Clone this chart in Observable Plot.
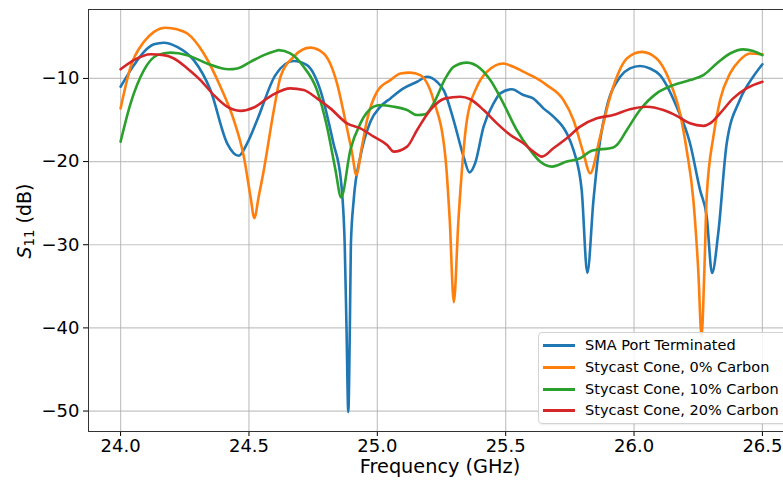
<!DOCTYPE html>
<html>
<head>
<meta charset="utf-8">
<script src="https://cdn.jsdelivr.net/npm/d3@7"></script>
<script src="https://cdn.jsdelivr.net/npm/@observablehq/plot@0.6"></script>
<style>
  html, body { margin: 0; padding: 0; background: #fff; overflow: hidden; }
  #wrap { position: relative; width: 783px; height: 481px; overflow: hidden; font-family: "DejaVu Sans", sans-serif; }
  #wrap svg { max-width: none !important; display: block; }
  #legend { position: absolute; left: 538px; top: 332px; width: 262px; height: 92px; border: 1px solid #d3d3d3; border-radius: 4px; background: rgba(255,255,255,0.85); box-sizing: border-box; box-shadow: 1px 1px 2px rgba(0,0,0,0.08); }
  .row { position: absolute; left: 0; height: 20px; display: flex; align-items: center; font-size: 14.5px; color: #000; white-space: nowrap; }
  .sw { width: 32px; height: 0; border-top: 3px solid; margin-left: 4px; margin-right: 10px; }
</style>
</head>
<body>
<div id="wrap"></div>
<script>
// ---- data ----
const seriesNames = ["SMA Port Terminated", "Stycast Cone, 0% Carbon", "Stycast Cone, 10% Carbon", "Stycast Cone, 20% Carbon"];
const seriesColors = ["#1f77b4", "#ff7f0e", "#2ca02c", "#d62728"];

const freqSMA = [24.000, 24.052, 24.091, 24.130, 24.168, 24.220, 24.285, 24.350, 24.415, 24.460, 24.493, 24.532, 24.603, 24.674, 24.726, 24.778, 24.829, 24.858, 24.873, 24.880, 24.887, 24.893, 24.897, 24.908, 24.934, 24.973, 25.012, 25.051, 25.102, 25.155, 25.193, 25.232, 25.260, 25.297, 25.336, 25.359, 25.381, 25.414, 25.453, 25.479, 25.524, 25.569, 25.607, 25.647, 25.686, 25.738, 25.764, 25.796, 25.818, 25.842, 25.868, 25.894, 25.946, 25.984, 26.023, 26.062, 26.101, 26.166, 26.218, 26.257, 26.283, 26.304, 26.328, 26.361, 26.412, 26.464, 26.500];
const dbSMA   = [-11.0, -8.4, -6.8, -5.9, -5.7, -6.2, -7.8, -11.4, -17.8, -19.3, -17.8, -15.0, -9.6, -7.9, -8.4, -11.4, -17.8, -22.2, -30.0, -40.0, -50.1, -40.0, -30.0, -24.6, -19.4, -15.2, -13.4, -12.4, -11.2, -10.4, -9.8, -10.4, -11.5, -15.0, -19.4, -21.3, -20.2, -15.8, -13.0, -11.8, -11.3, -12.0, -12.4, -13.6, -14.6, -16.6, -18.6, -23.4, -33.4, -24.6, -17.4, -13.4, -9.8, -8.8, -8.5, -8.8, -9.6, -13.4, -17.8, -23.4, -26.6, -33.4, -28.6, -17.8, -12.6, -9.8, -8.3];

const freqC0 = [24.000, 24.039, 24.091, 24.130, 24.175, 24.220, 24.260, 24.324, 24.389, 24.441, 24.480, 24.506, 24.521, 24.538, 24.558, 24.597, 24.623, 24.674, 24.739, 24.791, 24.843, 24.875, 24.902, 24.918, 24.940, 24.960, 24.999, 25.051, 25.090, 25.128, 25.167, 25.219, 25.265, 25.282, 25.298, 25.316, 25.349, 25.388, 25.427, 25.491, 25.530, 25.582, 25.621, 25.660, 25.725, 25.764, 25.803, 25.829, 25.868, 25.907, 25.933, 25.972, 26.030, 26.088, 26.140, 26.179, 26.205, 26.231, 26.250, 26.263, 26.274, 26.283, 26.309, 26.335, 26.374, 26.412, 26.451, 26.500];
const dbC0   = [-13.6, -8.6, -5.6, -4.4, -3.9, -4.1, -4.6, -7.0, -11.0, -15.0, -19.4, -24.2, -26.8, -24.2, -21.0, -13.8, -9.8, -7.4, -6.3, -7.0, -10.6, -15.0, -19.0, -21.6, -18.2, -15.0, -11.6, -10.2, -9.4, -9.3, -9.6, -12.6, -19.4, -27.0, -36.9, -27.0, -15.0, -11.0, -9.2, -8.2, -8.6, -9.4, -10.0, -10.8, -12.6, -15.0, -19.0, -21.4, -17.0, -12.2, -9.8, -7.6, -6.8, -7.6, -10.4, -14.2, -18.6, -24.6, -33.0, -41.0, -33.0, -24.2, -17.0, -12.6, -9.4, -7.8, -7.0, -7.1];

const freqC10 = [24.000, 24.039, 24.091, 24.143, 24.195, 24.260, 24.337, 24.421, 24.454, 24.506, 24.558, 24.603, 24.616, 24.661, 24.713, 24.765, 24.804, 24.837, 24.859, 24.895, 24.934, 24.986, 25.012, 25.064, 25.116, 25.155, 25.187, 25.219, 25.265, 25.297, 25.349, 25.401, 25.440, 25.491, 25.543, 25.595, 25.634, 25.680, 25.738, 25.790, 25.835, 25.919, 25.933, 25.972, 26.023, 26.088, 26.153, 26.218, 26.270, 26.322, 26.374, 26.425, 26.464, 26.500];
const dbC10   = [-17.6, -13.0, -9.0, -7.2, -6.9, -7.2, -8.2, -8.9, -8.8, -8.0, -7.2, -6.7, -6.6, -7.0, -8.6, -11.4, -15.8, -21.0, -24.3, -18.6, -15.4, -13.4, -13.2, -13.4, -13.8, -14.4, -14.3, -13.0, -10.0, -8.6, -8.1, -8.8, -10.2, -13.0, -16.2, -18.6, -20.0, -20.6, -20.0, -19.6, -18.7, -18.3, -18.0, -16.2, -13.8, -11.8, -10.8, -10.2, -9.6, -8.2, -7.0, -6.5, -6.7, -7.2];

const freqC20 = [24.000, 24.052, 24.117, 24.168, 24.208, 24.260, 24.311, 24.363, 24.415, 24.467, 24.519, 24.571, 24.603, 24.661, 24.713, 24.765, 24.817, 24.882, 24.934, 24.986, 25.038, 25.064, 25.116, 25.155, 25.206, 25.265, 25.323, 25.362, 25.414, 25.466, 25.518, 25.569, 25.608, 25.641, 25.686, 25.738, 25.790, 25.855, 25.919, 25.984, 26.049, 26.114, 26.166, 26.218, 26.270, 26.296, 26.335, 26.386, 26.438, 26.500];
const dbC20   = [-8.9, -7.8, -7.1, -7.2, -7.6, -8.8, -10.2, -12.0, -13.4, -13.9, -13.5, -12.4, -11.8, -11.2, -11.4, -12.4, -13.6, -15.4, -16.0, -17.0, -18.0, -18.8, -18.2, -16.2, -13.8, -12.4, -12.2, -12.5, -13.8, -15.4, -16.8, -17.8, -18.8, -19.4, -18.4, -17.2, -15.8, -14.8, -14.4, -13.7, -13.4, -13.8, -14.5, -15.4, -15.7, -15.4, -14.2, -12.4, -11.2, -10.4];

const xTicks = [24.0, 24.5, 25.0, 25.5, 26.0, 26.5];
const yTicks = [-10, -20, -30, -40, -50];
const xLabel = "Frequency (GHz)";

// ---- build tables ----
const freqs = [freqSMA, freqC0, freqC10, freqC20];
const dbs = [dbSMA, dbC0, dbC10, dbC20];
const tables = freqs.map((fs, i) => fs.map((f, j) => ({f, db: dbs[i][j], s: seriesNames[i]})));

const chart = Plot.plot({
  width: 794,
  height: 481,
  marginLeft: 88,
  marginRight: 0,
  marginTop: 9,
  marginBottom: 50,
  style: {fontFamily: "DejaVu Sans, sans-serif", fontSize: "18px", color: "#000", background: "transparent", overflow: "visible", maxWidth: "none"},
  x: {domain: [23.875, 26.625], ticks: xTicks, tickFormat: d3.format(".1f"), tickSize: 5, tickPadding: 3, label: null},
  y: {domain: [-52.46, -1.71], ticks: yTicks, tickFormat: d3.format("d"), tickSize: 5, tickPadding: 4, label: null},
  marks: [
    Plot.ruleX(xTicks, {stroke: "#b0b0b0", strokeOpacity: 0.75, strokeWidth: 1.2}),
    Plot.ruleY(yTicks, {stroke: "#b0b0b0", strokeOpacity: 0.75, strokeWidth: 1.2}),
    ...tables.map((t, i) => Plot.line(t, {x: "f", y: "db", stroke: seriesColors[i], strokeWidth: 2.6, curve: "monotone-x"})),
    Plot.frame({stroke: "#333", strokeWidth: 1})
  ]
});
chart.style.maxWidth = "none";

const svg = d3.select(chart);
svg.append("text")
  .attr("x", 440).attr("y", 473)
  .attr("text-anchor", "middle")
  .attr("font-size", 19.3)
  .attr("fill", "#000")
  .text(xLabel);

const yl = svg.append("text")
  .attr("transform", "translate(31,221) rotate(-90)")
  .attr("text-anchor", "middle")
  .attr("font-size", 19)
  .attr("fill", "#000");
yl.append("tspan").attr("font-style", "italic").text("S");
yl.append("tspan").attr("font-size", 13.3).attr("dy", 3).text("11");
yl.append("tspan").attr("dy", -3).text(" (dB)");

const wrap = document.getElementById("wrap");
wrap.appendChild(chart);

const legend = document.createElement("div");
legend.id = "legend";
const rowTops = [2, 24, 46, 67];
seriesNames.forEach((name, i) => {
  const row = document.createElement("div");
  row.className = "row";
  row.style.top = rowTops[i] + "px";
  const sw = document.createElement("div");
  sw.className = "sw";
  sw.style.borderTopColor = seriesColors[i];
  const tx = document.createElement("span");
  tx.textContent = name;
  row.appendChild(sw);
  row.appendChild(tx);
  legend.appendChild(row);
});
wrap.appendChild(legend);
</script>
</body>
</html>
